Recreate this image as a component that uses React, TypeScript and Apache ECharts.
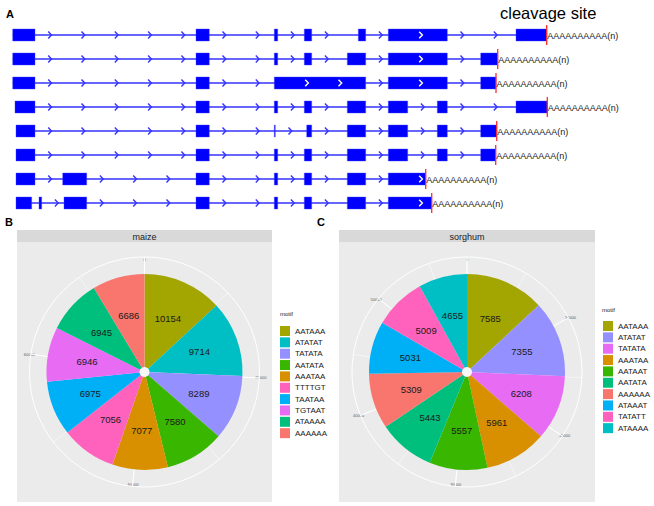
import React, { useEffect, useRef } from 'react';
import * as echarts from 'echarts';

// ---------- Panel A: transcript models (exon start/end, genome-browser units) ----------
const transcriptNames = ['T1', 'T2', 'T3', 'T4', 'T5', 'T6', 'T7', 'T8'];
const transcriptExons: number[][][] = [
  [[12.7, 35], [196, 209.3], [274.3, 277.7], [304.3, 311.7], [358.3, 365.7], [388.3, 447.3], [516, 546.7]],
  [[12.7, 35], [196, 209.3], [274.3, 277.7], [304.3, 311.7], [347.3, 365.7], [388.3, 447.3], [480.7, 497.7]],
  [[12.7, 35], [196, 209.3], [274.3, 365.7], [388.3, 447.3], [480.7, 496]],
  [[15, 35], [196, 209.3], [274.3, 277.7], [304.3, 311.7], [347.3, 365.7], [388.3, 407.7], [437.3, 447.3], [516, 547.3]],
  [[16, 35], [196, 209.3], [274.3, 275.3], [306.7, 311.7], [347.3, 365.7], [388.3, 407.7], [437.3, 447.3], [480.7, 496.7]],
  [[16, 35], [196, 209.3], [274.3, 277.7], [304.3, 311.7], [347.3, 365.7], [388.3, 407.7], [437.3, 447.3], [480.7, 495.7]],
  [[16, 35], [62.7, 86.7], [196, 209.3], [274.3, 277.7], [304.3, 311.7], [347.3, 365.7], [388.3, 425.7]],
  [[16, 31.7], [39, 41.7], [64, 86.7], [196, 209.3], [274.3, 277.7], [304.3, 311.7], [347.3, 365.7], [388.3, 431.7]],
];
const polyATail = 'AAAAAAAAAA(n)';
const cleavageLabel = 'cleavage site';
const chevronStep = 33.3;

// ---------- Panel B: maize ----------
const maizeMotifs = ['AATAAA', 'ATATAT', 'TATATA', 'AATATA', 'AAATAA', 'TTTTGT', 'TAATAA', 'TGTAAT', 'ATAAAA', 'AAAAAA'];
const maizeCounts = [10154, 9714, 8289, 7580, 7077, 7056, 6975, 6946, 6945, 6686];
const maizeColors = ['#A3A500', '#00BFC4', '#9590FF', '#39B600', '#D89000', '#FF62BC', '#00B0F6', '#E76BF3', '#00BF7D', '#F8766D'];
const maizeMajorStep = 20000;
const maizeMinorStep = 10000;

// ---------- Panel C: sorghum ----------
const sorghumMotifs = ['AATAAA', 'ATATAT', 'TATATA', 'AAATAA', 'AATAAT', 'AATATA', 'AAAAAA', 'ATAAAT', 'TATATT', 'ATAAAA'];
const sorghumCounts = [7585, 7355, 6208, 5961, 5557, 5443, 5309, 5031, 5009, 4655];
const sorghumColors = ['#A3A500', '#9590FF', '#E76BF3', '#D89000', '#39B600', '#00BF7D', '#F8766D', '#00B0F6', '#FF62BC', '#00BFC4'];
const sorghumMajorStep = 10000;
const sorghumMinorStep = 5000;

const FONT = '"Liberation Sans", Arial, Helvetica, sans-serif';
const EXON = '#0000FF';
const INTRON = '#3434FF';

function sum(a: number[]) {
  return a.reduce((s, v) => s + v, 0);
}

function renderTranscript(params: any, api: any) {
  const idx = api.value(1) as number;
  const exons = transcriptExons[idx];
  const yc = api.coord([0, idx])[1];
  const band = api.size([0, 1])[1];
  const h = band * 0.5;
  const X = (v: number) => api.coord([v, idx])[0];
  const children: any[] = [];
  const first = exons[0][0];
  const last = exons[exons.length - 1][1];
  children.push({
    type: 'line',
    shape: { x1: X(first), y1: yc, x2: X(last), y2: yc },
    style: { stroke: INTRON, lineWidth: 1.6 },
  });
  for (let i = 0; i < exons.length - 1; i++) {
    const s = exons[i][1];
    const e = exons[i + 1][0];
    for (let p = s + 15; p < e - 5; p += chevronStep) {
      const x = X(p);
      children.push({
        type: 'polyline',
        shape: { points: [[x - 1.8, yc - 3.5], [x + 1.5, yc], [x - 1.8, yc + 3.5]] },
        style: { stroke: INTRON, lineWidth: 1.4, fill: null },
      });
    }
  }
  exons.forEach((ex) => {
    const x1 = X(ex[0]);
    const x2 = X(ex[1]);
    children.push({
      type: 'rect',
      shape: { x: x1, y: yc - h / 2, width: Math.max(x2 - x1, 1), height: h },
      style: { fill: EXON, stroke: '#4a4aff', lineWidth: 0.4 },
    });
    for (let p = ex[0] + 32.5; p < ex[1] - 4; p += chevronStep) {
      const x = X(p);
      children.push({
        type: 'polyline',
        shape: { points: [[x - 1.6, yc - 3.3], [x + 1.6, yc], [x - 1.6, yc + 3.3]] },
        style: { stroke: '#FFFFFF', lineWidth: 1.4, fill: null },
      });
    }
  });
  const xe = X(last);
  children.push({
    type: 'line',
    shape: { x1: xe, y1: yc - 10, x2: xe, y2: yc + 10 },
    style: { stroke: '#FF2A2A', lineWidth: 1.3 },
  });
  children.push({
    type: 'text',
    x: xe + 0.5,
    y: yc + 0.5,
    style: { text: polyATail, fill: '#1a1a1a', font: `9px ${FONT}`, textAlign: 'left', textVerticalAlign: 'middle' },
  });
  return { type: 'group', children };
}

function polarPieParts(
  name: string,
  motifs: string[],
  counts: number[],
  colors: string[],
  majorStep: number,
  minorStep: number,
  cx: number,
  cy: number,
  polarBase: number
) {
  const total = sum(counts);
  const polar = [
    { center: [cx, cy], radius: [0, 115] },
    { center: [cx, cy], radius: [0, 115] },
  ];
  const angleAxis = [
    {
      polarIndex: polarBase,
      type: 'value',
      min: 0,
      max: total,
      interval: majorStep,
      startAngle: 90,
      clockwise: true,
      axisLine: { show: true, lineStyle: { color: '#FFFFFF', width: 1 } },
      axisTick: { show: false },
      splitLine: { show: true, lineStyle: { color: '#FFFFFF', width: 1 } },
      axisLabel: {
        show: true,
        fontSize: 4,
        color: '#5a5a5a',
        margin: -4,
        formatter: (v: number) => (v % majorStep === 0 && v < total ? String(v) : ''),
      },
      z: 1,
    },
    {
      polarIndex: polarBase + 1,
      type: 'value',
      min: 0,
      max: total,
      interval: minorStep,
      startAngle: 90,
      clockwise: true,
      axisLine: { show: false },
      axisTick: { show: false },
      axisLabel: { show: false },
      splitLine: { show: true, lineStyle: { color: '#FFFFFF', width: 0.5 } },
      z: 1,
    },
  ];
  const radiusAxis = [
    { polarIndex: polarBase, type: 'value', show: false, splitLine: { show: false } },
    { polarIndex: polarBase + 1, type: 'value', show: false, splitLine: { show: false } },
  ];
  const data = motifs.map((m, i) => ({ name: m, value: counts[i], itemStyle: { color: colors[i] } }));
  const series = [
    {
      name: name,
      type: 'pie',
      center: [cx, cy],
      radius: [0, 98],
      startAngle: 90,
      clockwise: true,
      silent: true,
      avoidLabelOverlap: false,
      label: { show: false },
      labelLine: { show: false },
      itemStyle: { borderWidth: 0 },
      data,
      z: 3,
    },
    {
      name: name + '-labels',
      type: 'pie',
      center: [cx, cy],
      radius: [13, 98],
      startAngle: 90,
      clockwise: true,
      silent: true,
      avoidLabelOverlap: false,
      label: {
        show: true,
        position: 'inside',
        formatter: '{c}',
        fontSize: 9.5,
        color: '#1a1a1a',
        fontFamily: FONT,
      },
      labelLayout: { hideOverlap: false },
      labelLine: { show: false },
      itemStyle: { color: 'rgba(0,0,0,0)', borderWidth: 0 },
      data: motifs.map((m, i) => ({ name: m, value: counts[i] })),
      z: 4,
    },
  ];
  return { polar, angleAxis, radiusAxis, series };
}

export default function App() {
  const ref = useRef<HTMLDivElement>(null);
  useEffect(() => {
    const chart = echarts.init(ref.current!, null, { renderer: 'svg' });
    const maize = polarPieParts('maize', maizeMotifs, maizeCounts, maizeColors, maizeMajorStep, maizeMinorStep, 144.5, 372, 0);
    const sorghum = polarPieParts('sorghum', sorghumMotifs, sorghumCounts, sorghumColors, sorghumMajorStep, sorghumMinorStep, 467, 372, 2);

    const legendBase = {
      orient: 'vertical',
      itemWidth: 10,
      itemHeight: 10,
      itemGap: 1.35,
      padding: 0,
      icon: 'rect',
      selectedMode: false,
      textStyle: { fontSize: 8, color: '#1a1a1a', lineHeight: 10, fontFamily: FONT },
    };

    const option: any = {
      animation: false,
      backgroundColor: '#FFFFFF',
      textStyle: { fontFamily: FONT },
      grid: [{ left: 0, width: 654, top: 23, height: 192, show: false }],
      xAxis: [{ type: 'value', min: 0, max: 654, show: false, gridIndex: 0 }],
      yAxis: [{ type: 'category', data: transcriptNames, inverse: true, show: false, gridIndex: 0 }],
      polar: [...maize.polar, ...sorghum.polar],
      angleAxis: [...maize.angleAxis, ...sorghum.angleAxis],
      radiusAxis: [...maize.radiusAxis, ...sorghum.radiusAxis],
      legend: [
        {
          ...legendBase,
          left: 280,
          top: 326,
          data: maizeMotifs.map((m, i) => ({ name: m, itemStyle: { color: maizeColors[i] } })),
        },
        {
          ...legendBase,
          left: 603,
          top: 321,
          data: sorghumMotifs.map((m, i) => ({ name: m, itemStyle: { color: sorghumColors[i] } })),
        },
      ],
      graphic: [
        { type: 'text', x: 6, y: 14, z: 5, style: { text: 'A', font: `bold 11px ${FONT}`, fill: '#000', textVerticalAlign: 'middle' } },
        { type: 'text', x: 5, y: 222, z: 5, style: { text: 'B', font: `bold 11px ${FONT}`, fill: '#000', textVerticalAlign: 'middle' } },
        { type: 'text', x: 317, y: 222, z: 5, style: { text: 'C', font: `bold 11px ${FONT}`, fill: '#000', textVerticalAlign: 'middle' } },
        { type: 'text', x: 500, y: 13, z: 5, style: { text: cleavageLabel, font: `16.5px ${FONT}`, fill: '#000', textVerticalAlign: 'middle' } },
        // facet panels
        { type: 'rect', z: -5, shape: { x: 17, y: 242, width: 255, height: 260 }, style: { fill: '#EBEBEB' } },
        { type: 'rect', z: -5, shape: { x: 17, y: 230, width: 255, height: 12 }, style: { fill: '#D9D9D9' } },
        { type: 'text', x: 144.5, y: 236.5, z: 5, style: { text: 'maize', font: `9px ${FONT}`, fill: '#1a1a1a', textAlign: 'center', textVerticalAlign: 'middle' } },
        { type: 'rect', z: -5, shape: { x: 339, y: 242, width: 256, height: 260 }, style: { fill: '#EBEBEB' } },
        { type: 'rect', z: -5, shape: { x: 339, y: 230, width: 256, height: 12 }, style: { fill: '#D9D9D9' } },
        { type: 'text', x: 467, y: 236.5, z: 5, style: { text: 'sorghum', font: `9px ${FONT}`, fill: '#1a1a1a', textAlign: 'center', textVerticalAlign: 'middle' } },
        // legend titles
        { type: 'text', x: 280, y: 314, z: 5, style: { text: 'motif', font: `6px ${FONT}`, fill: '#1a1a1a', textVerticalAlign: 'middle' } },
        { type: 'text', x: 602, y: 310, z: 5, style: { text: 'motif', font: `6px ${FONT}`, fill: '#1a1a1a', textVerticalAlign: 'middle' } },
        // centre holes
        { type: 'circle', z: 20, shape: { cx: 144.5, cy: 372, r: 5 }, style: { fill: '#F7F7F7' } },
        { type: 'circle', z: 20, shape: { cx: 467, cy: 372, r: 5 }, style: { fill: '#F7F7F7' } },
      ],
      series: [
        {
          type: 'custom',
          xAxisIndex: 0,
          yAxisIndex: 0,
          clip: false,
          silent: true,
          encode: { x: 0, y: 1 },
          data: transcriptExons.map((ex, i) => [ex[0][0], i]),
          renderItem: renderTranscript,
          z: 2,
        },
        ...maize.series,
        ...sorghum.series,
      ],
    };
    chart.setOption(option);
    return () => chart.dispose();
  }, []);
  return <div ref={ref} style={{ position: 'absolute', left: 0, top: 0, width: 654, height: 506 }} />;
}
